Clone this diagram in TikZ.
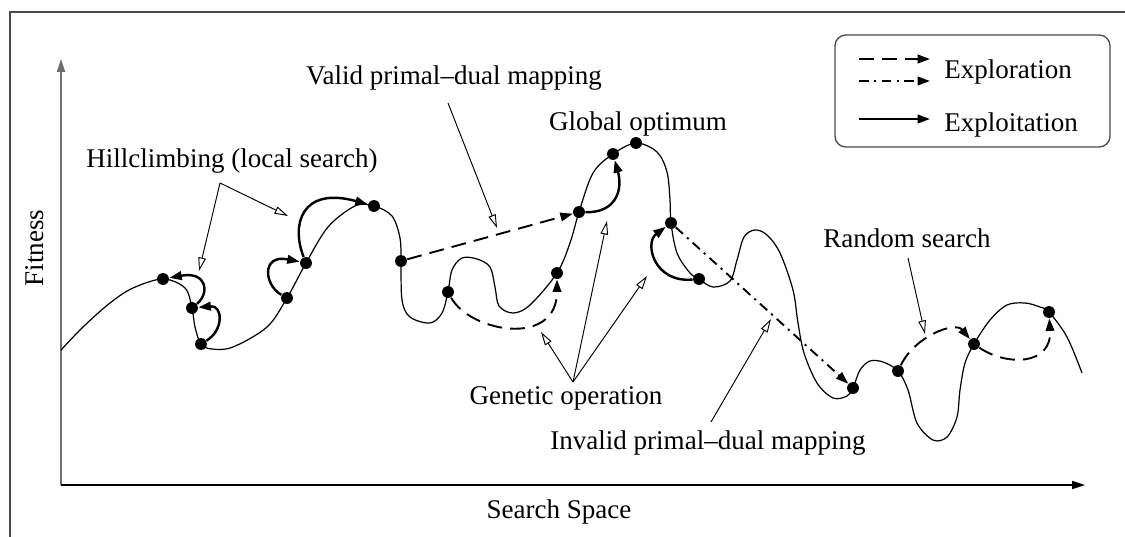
\documentclass[tikz,border=0pt]{standalone}
\usepackage{fontspec}
\setmainfont{Liberation Serif}
\usetikzlibrary{arrows.meta}
\definecolor{ink}{HTML}{000000}
\definecolor{frame}{HTML}{4A4A4A}
\definecolor{axisg}{HTML}{6E6E6E}
\tikzset{
  % ---- landscape and sampled solutions ---------------------------
  land/.style      = {draw=ink, line width=.45pt},
  sol/.style       = {circle, fill=ink, inner sep=0pt, minimum size=4.4pt},
  axisln/.style    = {draw=ink, line width=.5pt,
                      -{Triangle[length=4.8pt,width=3pt]}},
  % ---- search moves ----------------------------------------------
  exploit/.style   = {draw=ink, line width=.9pt,
                      -{Triangle[length=4.6pt,width=3.2pt]}},
  explore/.style   = {exploit, line width=.7pt, dash pattern=on 5.5pt off 3pt},
  exploredd/.style = {exploit, line width=.7pt,
                      dash pattern=on 3.6pt off 2pt on .8pt off 2pt},
  % ---- callouts and legend ---------------------------------------
  note/.style      = {inner sep=1pt},
  callout/.style   = {draw=ink, line width=.35pt,
                      -{Triangle[open,length=5pt,width=2.8pt]}},
  legbox/.style    = {draw=frame, rounded corners=4pt, line width=.5pt},
}
\begin{document}
\begin{tikzpicture}[x=0.013cm, y=-0.013cm]
\useasboundingbox (0,0) rectangle (1125,536);
\draw[frame, line width=.5pt] (10,540) -- (10,12) -- (1130,12);
\coordinate (orig) at (61,485);
\coordinate (ytop) at (61,59);
\coordinate (xend) at (1085,485);
\draw[axisln, draw=axisg, line width=.7pt] (orig) -- (ytop);
\draw[axisln] (orig) -- (xend);
\node[note, rotate=90] (ylab) at (35,248) {Fitness};
\node[note] (xlab) at (559,512) {Search Space};
\node[sol] (s1) at (163,279) {};
\node[sol] (s2) at (192,308) {};
\node[sol] (s3) at (201,344) {};
\node[sol] (s4) at (287,298) {};
\node[sol] (s5) at (306,263) {};
\node[sol] (s6) at (374,206) {};
\node[sol] (s7) at (401,261) {};
\node[sol] (s8) at (448,292) {};
\node[sol] (s9) at (557,273) {};
\node[sol] (s10) at (579,212) {};
\node[sol] (s11) at (613,154) {};
\node[sol] (s12) at (636,143) {};
\node[sol] (s13) at (671,223) {};
\node[sol] (s14) at (699,279) {};
\node[sol] (s15) at (853,388) {};
\node[sol] (s16) at (898,371) {};
\node[sol] (s17) at (974,344) {};
\node[sol] (s18) at (1049,312) {};
\draw[land] plot[smooth, tension=.55] coordinates {
  (61,350) (83,327) (110,303) (133,288) (s1) (185,288) (s2) (195,327)
  (s3) (212,349) (233,347) (267,327) (s4) (s5) (328,227) (355,206) (s6)
  (392,216) (400,238) (s7) (402,300) (410,317) (430,323) (442,313) (s8)
  (452,270) (462,258) (477,259) (490,267) (495,287) (499,306) (513,313)
  (530,305) (s9) (570,243) (s10) (593,173) (s11) (s12) (657,152) (667,172)
  (670,200) (s13) (677,253) (690,273) (s14) (713,287) (730,281) (737,260)
  (744,237) (755,230) (767,235) (780,253) (793,290) (798,323) (804,353)
  (817,383) (833,398) (847,396) (s15) (860,370) (870,361) (883,362) (s16)
  (908,390) (917,423) (933,440) (947,437) (957,417) (960,390) (965,363)
  (s17) (990,320) (1007,305) (1025,303) (1040,307) (s18) (1067,337)
  (1082,373)};
\draw[exploit] (s2) .. controls (210,293) and (207,271) .. (s1);
\draw[exploit] (s3) .. controls (224,330) and (223,305) .. (s2);
\draw[exploit] (s4) .. controls (264,285) and (261,254) .. (s5);
\draw[exploit] (s5) .. controls (291,225) and (301,186) .. (s6);
\draw[exploit] (s10) .. controls (616,213) and (623,190) .. (s11);
\draw[exploit] (s14) .. controls (654,283) and (644,243) .. (s13);
\draw[explore] (s7) -- (s10);
\draw[explore] (s8) .. controls (470,332) and (557,348) .. (s9);
\draw[explore] (s16) .. controls (915,336) and (955,321) .. (s17);
\draw[explore] (s17) .. controls (1006,366) and (1052,366) .. (s18);
\draw[exploredd] (s13) -- (s15);
\node[note] (hill) at (232,161) {Hillclimbing (local search)};
\coordinate (hillfan) at (220,183);
\coordinate (hilltipA) at (199,271);
\coordinate (hilltipB) at (288,216);
\draw[callout] (hillfan) -- (hilltipA);
\draw[callout] (hillfan) -- (hilltipB);
\node[note] (valid) at (454,78) {Valid primal--dual mapping};
\coordinate (validfoot) at (448,103);
\coordinate (validtip) at (497,228);
\draw[callout] (validfoot) -- (validtip);
\node[note] (glob) at (638,124) {Global optimum};
\node[note] (genop) at (566,398) {Genetic operation};
\coordinate (genfan) at (573,382);
\coordinate (gentipA) at (541,332);
\coordinate (gentipB) at (607,221);
\coordinate (gentipC) at (647,276);
\draw[callout] (genfan) -- (gentipA);
\draw[callout] (genfan) -- (gentipB);
\draw[callout] (genfan) -- (gentipC);
\node[note] (inval) at (708,443) {Invalid primal--dual mapping};
\coordinate (invalfoot) at (711,422);
\coordinate (invaltip) at (771,319);
\draw[callout] (invalfoot) -- (invaltip);
\node[note] (rand) at (907,238) {Random search};
\coordinate (randfoot) at (908,258);
\coordinate (randtip) at (925,334);
\draw[callout] (randfoot) -- (randtip);
\draw[legbox] (835,35) rectangle (1110,147);
\coordinate (lgA0) at (859,59);
\coordinate (lgA1) at (930,59);
\coordinate (lgB0) at (859,81);
\coordinate (lgB1) at (930,81);
\coordinate (lgC0) at (859,119);
\coordinate (lgC1) at (930,119);
\draw[explore] (lgA0) -- (lgA1);
\draw[exploredd] (lgB0) -- (lgB1);
\draw[exploit, line width=.7pt] (lgC0) -- (lgC1);
\node[note, anchor=west] (lgexplore) at (941,72) {Exploration};
\node[note, anchor=west] (lgexploit) at (941,125) {Exploitation};
\end{tikzpicture}
\end{document}
